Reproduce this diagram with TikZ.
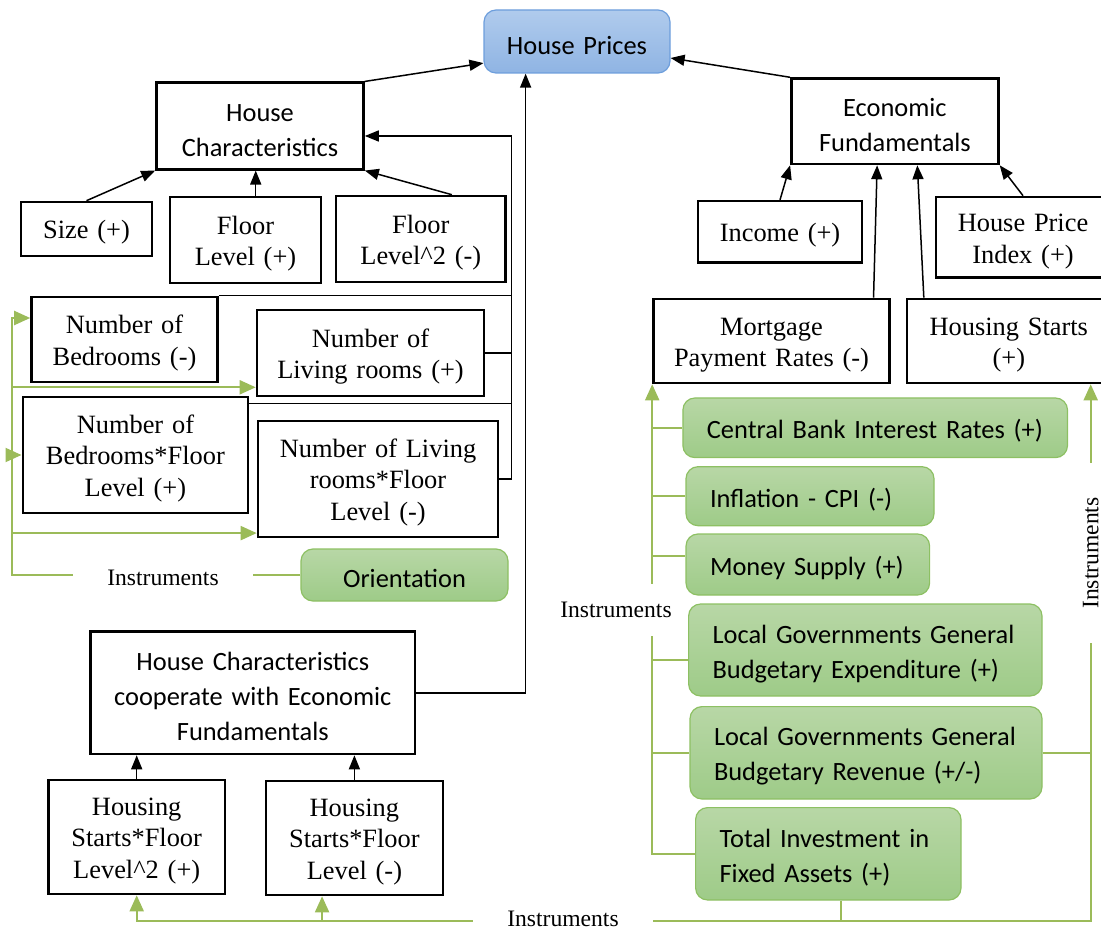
\documentclass[tikz,border=0pt]{standalone}
\usepackage{fontspec}
\setmainfont{Liberation Serif}
\newfontfamily\carlito{Carlito}
\usetikzlibrary{arrows.meta}
\definecolor{hp-top}{RGB}{176,203,237}
\definecolor{hp-bottom}{RGB}{143,180,227}
\definecolor{hp-line}{RGB}{109,158,220}
\definecolor{g-top}{RGB}{184,215,166}
\definecolor{g-bottom}{RGB}{158,203,136}
\definecolor{g-line}{RGB}{141,192,99}
\definecolor{inst-green}{RGB}{155,187,89}
\newcommand\tmsfont{\fontsize{13.2}{15.8}\selectfont}
\newcommand\clbfont{\carlito\fontsize{13.2}{17.5}\selectfont}
\tikzset{lowtext/.style={execute at begin node={\rule{0pt}{12.8pt}}}}
\tikzset{tbox/.style={draw,line width=1.3pt,inner sep=0pt,align=center,font=\tmsfont,lowtext}}
\tikzset{cbox/.style={draw,line width=1.3pt,inner sep=0pt,align=center,font=\clbfont,lowtext}}

\begin{document}
\begin{tikzpicture}[
    x=0.5pt, y=-0.5pt,
    >={Triangle[length=7pt,width=5.5pt]}
  ]

  % Global Style Definitions
  \tikzset{
    pbox/.style={draw=hp-line, line width=0.6pt, rounded corners=6pt, top color=hp-top, bottom color=hp-bottom, font=\clbfont, inner sep=0pt, align=center, lowtext},
    gbox/.style={draw=g-line, line width=0.6pt, rounded corners=6pt, top color=g-top, bottom color=g-bottom, font=\clbfont, inner xsep=12pt, inner ysep=0pt, align=left, lowtext},
    link/.style={->, line width=0.75pt},
    feed/.style={line width=0.75pt},
    inst/.style={draw=inst-green, line width=1pt},
    instarrow/.style={inst, -{Triangle[length=8pt,width=7pt]}},
    ilabel/.style={font=\fontsize{11.8}{14}\selectfont, inner ysep=0pt}
  }

  \useasboundingbox (0,0) rectangle (1101,929);
  \clip (0,0) rectangle (1101,929);

  % Target
  \node (hp) [pbox, text width=93pt, minimum height=31.5pt] at (577,41.5) {House Prices};

  % Left: House Characteristics and its variables
  \node (hc) [cbox, text width=103.5pt, minimum height=43.25pt] at (260,126) {House\\Characteristics};
  \node (size) [tbox, text width=65.5pt, minimum height=27pt] at (86.5,229) {Size (+)};
  \node (fl) [tbox, text width=75.5pt, minimum height=43pt] at (245.5,240) {Floor\\Level (+)};
  \node (fl2) [tbox, text width=84.8pt, minimum height=43pt] at (420.8,239) {Floor\\Level\textasciicircum 2 (-)};
  \node (nb) [tbox, text width=93pt, minimum height=42.5pt] at (124.5,339.5) {Number of\\Bedrooms (-)};
  \node (nlr) [tbox, text width=113.5pt, minimum height=43pt] at (370.5,353) {Number of\\Living rooms (+)};
  \node (nbf) [tbox, text width=112.6pt, minimum height=58pt] at (135.4,455) {Number of\\Bedrooms*Floor\\Level (+)};
  \node (nlrf) [tbox, text width=120pt, minimum height=58pt] at (378,479) {Number of Living\\rooms*Floor\\Level (-)};
  \node (orient) [gbox, align=center, text width=79.5pt, minimum height=26pt] at (404.5,575) {Orientation};
  \node (instL) [ilabel, inner xsep=17pt] at (163,578) {Instruments};

  % Left bottom: interaction terms
  \node (hccoop) [cbox, text width=162.3pt, minimum height=61.2pt] at (252.8,692.8) {House Characteristics\\cooperate with Economic\\Fundamentals};
  \node (hsf2) [tbox, text width=88.3pt, minimum height=57pt] at (136.7,837) {Housing\\Starts*Floor\\Level\textasciicircum 2 (+)};
  \node (hsf) [tbox, text width=88.4pt, minimum height=57pt] at (354.4,838) {Housing\\Starts*Floor\\Level (-)};
  \node (instB) [ilabel, inner xsep=17pt] at (563,919) {Instruments};

  % Right: Economic Fundamentals and its variables
  \node (ef) [cbox, text width=103.5pt, minimum height=42.7pt] at (894.9,121.3) {Economic\\Fundamentals};
  \node (income) [tbox, text width=82pt, minimum height=30.8pt] at (780,232) {Income (+)};
  \node (hpi) [tbox, text width=87pt, minimum height=40.3pt] at (1023,237.3) {House Price\\Index (+)};
  \node (mort) [tbox, text width=118pt, minimum height=42pt] at (771.5,341) {Mortgage\\Payment Rates (-)};
  \node (hs) [tbox, text width=101.8pt, minimum height=42pt] at (1008.8,341) {Housing Starts\\(+)};

  % Right: instruments
  \node (cb) [gbox, text width=168.3pt, minimum height=29.8pt] at (875.2,427.8) {Central Bank Interest Rates (+)};
  \node (infl) [gbox, text width=100pt, minimum height=29.5pt] at (810,496.2) {Inflation - CPI (-)};
  \node (money) [gbox, text width=97.8pt, minimum height=30.5pt] at (807.8,564.5) {Money Supply (+)};
  \node (lgge) [gbox, text width=152.7pt, minimum height=46pt] at (865.3,650) {Local Governments General\\Budgetary Expenditure (+)};
  \node (lggr) [gbox, text width=152pt, minimum height=46.2pt] at (866,752.8) {Local Governments General\\Budgetary Revenue (+/-)};
  \node (tifa) [gbox, text width=108.7pt, minimum height=46.2pt] at (828.3,853.8) {Total Investment in\\Fixed Assets (+)};
  \node (instM) [ilabel, inner ysep=9pt] at (616,610) {Instruments};
  \node (instR) [ilabel, rotate=90, inner xsep=17pt] at (1090.7,553) {Instruments};

  % Connections into House Prices
  \draw[link] (hc.north east) -- (hp.193);
  \draw[link] (ef.north west) -- (hp.-10);
  \draw[link] (hccoop.east) -| (hp.212);

  % Connections into House Characteristics
  \coordinate (hcbus) at (511.6,136);
  \coordinate (nbfout) at ([yshift=-4pt]nbf.north east);
  \draw[link] (size.north) -- (hc.south west);
  \draw[link] (fl.77) -- (fl.77 |- hc.south);
  \draw[link] (fl2.55) -- (hc.south east);
  \draw[link] (nlrf.east) -| (hcbus) -- (hcbus -| hc.east);
  \draw[feed] (nb.north east) -- (nb.north east -| hcbus);
  \draw[feed] (nlr.east) -- (nlr.east -| hcbus);
  \draw[feed] (nbfout) -- (nbfout -| hcbus);

  % Connections into Economic Fundamentals
  \draw[link] (income.north) -- (ef.south west);
  \draw[link] (mort.23) -- (ef.-112);
  \draw[link] (hs.153) -- (ef.-63);
  \draw[link] (hpi.north) -- (ef.south east);

  % Interaction terms
  \draw[link] (hsf2.north) -- (hsf2.north |- hccoop.south);
  \draw[link] (hsf.north) -- (hsf.north |- hccoop.south);

  % Instruments: left cluster
  \coordinate (lbus) at (11.6,318);
  \coordinate (nlrin) at ([yshift=5pt]nlr.south west);
  \coordinate (nlrfin) at ([yshift=2.6pt]nlrf.south west);
  \draw[inst] (orient.west) -- (orient.west -| instL.east);
  \draw[instarrow] (orient.west -| instL.west) -| (lbus) -- (lbus -| nb.west);
  \draw[instarrow] (lbus |- nlrin) -- (nlrin);
  \draw[instarrow] (lbus |- nbf.west) -- (nbf.west);
  \draw[instarrow] (lbus |- nlrfin) -- (nlrfin);

  % Instruments: mortgage payment rates
  \coordinate (lgein) at ([yshift=-5pt]lgge.west);
  \coordinate (moneyin) at ([yshift=4.2pt]money.west);
  \draw[instarrow] (mort.south west |- instM.north) -- (mort.south west);
  \draw[inst] (mort.south west |- cb.west) -- (cb.west);
  \draw[inst] (mort.south west |- infl.west) -- (infl.west);
  \draw[inst] (mort.south west |- moneyin) -- (moneyin);
  \draw[inst] (mort.south west |- instM.south) |- (tifa.west);
  \draw[inst] (mort.south west |- lgein) -- (lgein);
  \draw[inst] (mort.south west |- lggr.west) -- (lggr.west);

  % Instruments: housing starts and interaction terms
  \coordinate (rbot) at (1090.7,921);
  \draw[instarrow] (instR.east) -- (instR.east |- hs.south);
  \draw[inst] (lggr.east) -- (lggr.east -| instR.west);
  \draw[inst] (instR.west) -- (rbot) -- (rbot -| instB.east);
  \draw[inst] (tifa.-75) -- (tifa.-75 |- rbot);
  \draw[instarrow] (rbot -| instB.west) -| (hsf2.south);
  \draw[instarrow] (rbot -| hsf.-119) -- (hsf.-119);

\end{tikzpicture}
\end{document}
